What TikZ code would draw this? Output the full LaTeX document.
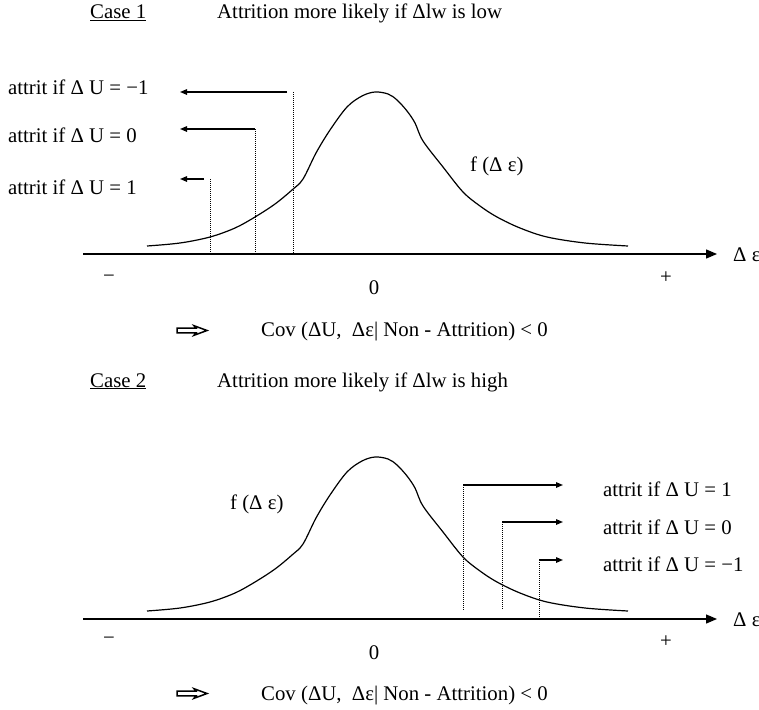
\documentclass[tikz,border=0pt]{standalone}
\usepackage{fontspec}
\setmainfont{Liberation Serif}
\usetikzlibrary{arrows.meta}
\begin{document}
\begin{tikzpicture}[x=1pt,y=-1pt,
  font=\fontsize{20.8}{25}\selectfont,
  txt/.style={inner sep=0pt, anchor=base west},
  ctxt/.style={inner sep=0pt, anchor=base},
  axisline/.style={line width=1.3pt, -{Triangle[length=11pt,width=9pt]}},
  attr/.style={line width=1.4pt, -{Triangle[length=7pt,width=5.5pt]}},
  drop/.style={line width=0.7pt, dash pattern=on 1pt off 1pt},
  density/.style={line width=1.2pt},
  implies/.pic={\draw[line width=1.5pt, line join=miter]
     (0,-2.3) -- (19,-2.3) -- (17,-4.8) -- (30,0) -- (17,4.8) -- (19,2.3) -- (0,2.3) -- cycle;},
  bell/.pic={\draw[density] plot[smooth, tension=0.55] coordinates {
     (147,246) (180,243) (210,237) (235,228) (255,217) (275,204) (292,190) (303,179)
     (316,153) (330,130) (347,107) (362,96) (375,92) (388,94) (397,100) (407,111)
     (415,123) (423,141) (443,167) (463,192) (480,206) (497,217) (520,228) (547,237)
     (585,243) (628,246)};}
]
\useasboundingbox (0,0) rectangle (759,709);

% ---------------- Case 1 ----------------
\node[txt] (case1) at (90,19) {\underline{Case 1}};
\node[txt] (title1) at (217,19) {Attrition more likely if Δlw is low};

\coordinate (ax1s) at (83,254);
\coordinate (ax1e) at (717,254);
\draw[axisline] (ax1s) -- (ax1e);
\node[txt] (de1) at (733,261) {Δ ε};
\node[ctxt] (m1) at (109,282) {−};
\node[ctxt] (p1) at (666,283) {+};
\node[ctxt] (z1) at (374,294) {0};

\pic at (0,0) {bell};
\node[txt] (f1) at (470,171) {f (Δ ε)};

% attrition thresholds, case 1
\coordinate (d1a) at (293,92);  \coordinate (d1ab) at (293,254);
\coordinate (a1a) at (287,92);  \coordinate (t1a) at (180,92);
\coordinate (d1b) at (255,129); \coordinate (d1bb) at (255,254);
\coordinate (t1b) at (180,129);
\coordinate (d1c) at (210,179); \coordinate (d1cb) at (210,254);
\coordinate (a1c) at (204,179); \coordinate (t1c) at (180,179);
\draw[drop] (d1a) -- (d1ab);
\draw[drop] (d1b) -- (d1bb);
\draw[drop] (d1c) -- (d1cb);
\draw[attr] (a1a) -- (t1a);
\draw[attr] (d1b) -- (t1b);
\draw[attr] (a1c) -- (t1c);
\node[txt] (l1a) at (8,94) {attrit if Δ U = −1};
\node[txt] (l1b) at (8,142) {attrit if Δ U = 0};
\node[txt] (l1c) at (8,194) {attrit if Δ U = 1};

\pic at (177,330.5) {implies};
\node[txt] (cov1) at (261,336) {Cov (ΔU,\ \ Δε| Non - Attrition) < 0};

% ---------------- Case 2 ----------------
\node[txt] (case2) at (90,387) {\underline{Case 2}};
\node[txt] (title2) at (217,387) {Attrition more likely if Δlw is high};

\coordinate (ax2s) at (83,619);
\coordinate (ax2e) at (717,619);
\draw[axisline] (ax2s) -- (ax2e);
\node[txt] (de2) at (733,626) {Δ ε};
\node[ctxt] (m2) at (109,644) {−};
\node[ctxt] (p2) at (666,647) {+};
\node[ctxt] (z2) at (374,659) {0};

\begin{scope}[shift={(0,365)}]
\pic at (0,0) {bell};
\end{scope}
\node[txt] (f2) at (230,509) {f (Δ ε)};

% attrition thresholds, case 2
\coordinate (d2a) at (463,485); \coordinate (d2ab) at (463,610);
\coordinate (t2a) at (563,485);
\coordinate (d2b) at (502,522); \coordinate (d2bb) at (502,610);
\coordinate (t2b) at (563,522);
\coordinate (d2c) at (539,560); \coordinate (d2cb) at (539,619);
\coordinate (t2c) at (563,560);
\draw[drop] (d2a) -- (d2ab);
\draw[drop] (d2b) -- (d2bb);
\draw[drop] (d2c) -- (d2cb);
\draw[attr] (d2a) -- (t2a);
\draw[attr] (d2b) -- (t2b);
\draw[attr] (d2c) -- (t2c);
\node[txt] (l2a) at (603,496) {attrit if Δ U = 1};
\node[txt] (l2b) at (603,534) {attrit if Δ U = 0};
\node[txt] (l2c) at (603,571) {attrit if Δ U = −1};

\pic at (177,693.5) {implies};
\node[txt] (cov2) at (261,700) {Cov (ΔU,\ \ Δε| Non - Attrition) < 0};
\end{tikzpicture}
\end{document}
